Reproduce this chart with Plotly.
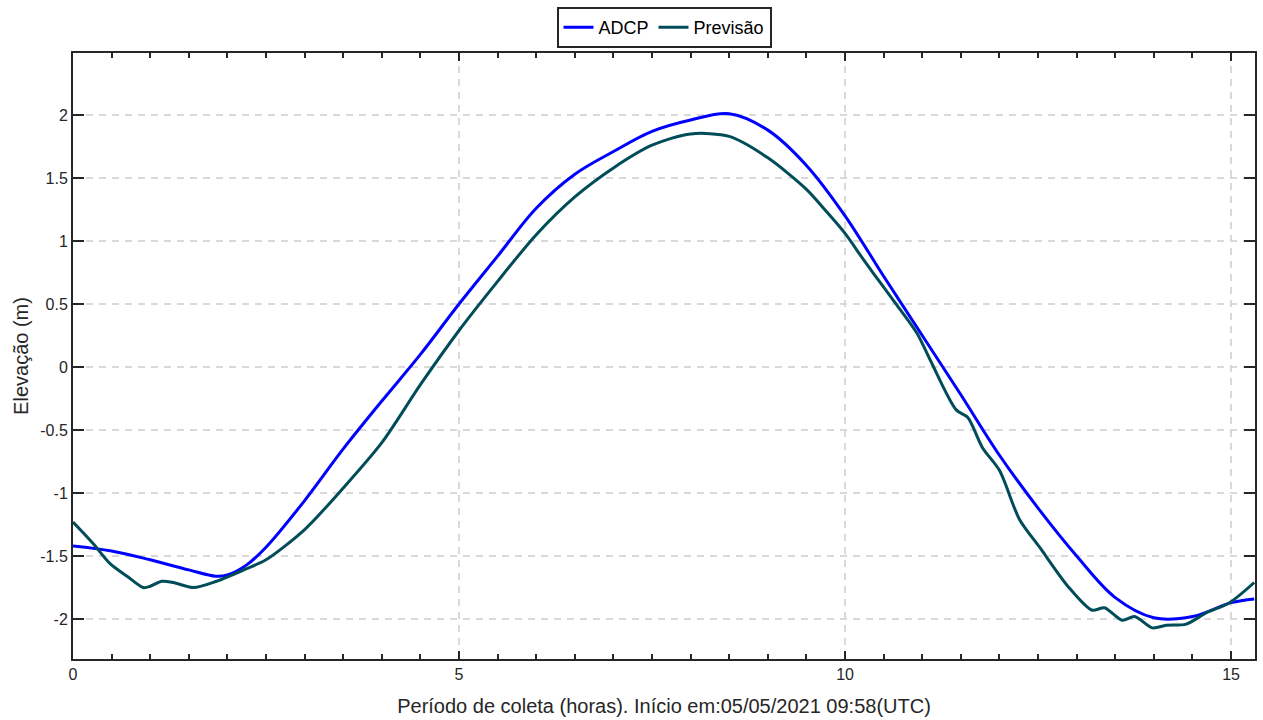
import plotly.graph_objects as go

# ADCP series (hours, elevation m)
adcp_t = [0, 0.5, 1.0, 1.5, 1.85, 2.0, 2.25, 2.5, 3.0, 3.5, 4.0, 4.5, 5.0, 5.5, 6.0, 6.5,
          7.0, 7.5, 8.0, 8.5, 9.0, 9.5, 10.0, 10.5, 11.0, 11.5, 12.0, 12.5, 13.0, 13.5,
          14.0, 14.5, 15.0, 15.3]
adcp_v = [-1.42, -1.46, -1.53, -1.61, -1.66, -1.65, -1.57, -1.43, -1.06, -0.65, -0.27,
          0.10, 0.50, 0.88, 1.26, 1.53, 1.71, 1.87, 1.96, 2.01, 1.88, 1.60, 1.20, 0.72,
          0.25, -0.22, -0.70, -1.12, -1.50, -1.83, -1.99, -1.98, -1.87, -1.84]

# Previsão series
prev_t = [0, 0.26, 0.48, 0.7, 0.91, 1.0, 1.15, 1.3, 1.56, 1.86, 2.25, 2.5, 3.0, 3.5,
          4.0, 4.5, 5.0, 5.5, 6.0, 6.5, 7.0, 7.5, 8.0, 8.5, 9.0, 9.5, 9.75, 10.0, 10.23,
          10.36, 10.6, 10.93, 11.1, 11.44, 11.59, 11.78, 12.0, 12.26, 12.52, 12.9, 13.2,
          13.36, 13.59, 13.75, 13.98, 14.16, 14.42, 14.68, 14.98, 15.3]
prev_v = [-1.23, -1.40, -1.56, -1.66, -1.75, -1.74, -1.70, -1.71, -1.75, -1.70, -1.60,
          -1.53, -1.29, -0.96, -0.60, -0.14, 0.29, 0.68, 1.05, 1.35, 1.58, 1.76, 1.85,
          1.83, 1.66, 1.41, 1.24, 1.06, 0.86, 0.75, 0.55, 0.27, 0.06, -0.34, -0.40, -0.64,
          -0.82, -1.21, -1.43, -1.75, -1.93, -1.91, -2.01, -1.98, -2.07, -2.05, -2.04,
          -1.95, -1.87, -1.71]

x_ticks = [0, 5, 10, 15]
y_ticks = [-2, -1.5, -1, -0.5, 0, 0.5, 1, 1.5, 2]

FONT = "Liberation Sans, Arial, sans-serif"
TXT = "#262626"

fig = go.Figure()
fig.add_trace(go.Scatter(x=adcp_t, y=adcp_v, mode="lines", name="ADCP",
                         line=dict(color="#0000FF", width=3, shape="spline", smoothing=1.0)))
fig.add_trace(go.Scatter(x=prev_t, y=prev_v, mode="lines", name="Previsão",
                         line=dict(color="#004D59", width=3, shape="spline", smoothing=0.8)))

fig.update_layout(
    width=1263, height=720,
    margin=dict(l=73, r=8, t=53, b=61, autoexpand=False),
    paper_bgcolor="white", plot_bgcolor="white",
    font=dict(family=FONT, size=16, color=TXT),
    showlegend=True,
    legend=dict(orientation="h", x=0.5, xanchor="center",
                y=1 - 7 / 720, yanchor="top", yref="container",
                bordercolor="#262626", borderwidth=2,
                font=dict(size=18, color="#000000"), itemwidth=30,
                tracegroupgap=0, bgcolor="white"),
)
fig.update_xaxes(
    range=[0, 15.31], tickvals=x_ticks, ticktext=[str(v) for v in x_ticks],
    showline=True, linecolor=TXT, linewidth=2, mirror="ticks",
    ticks="inside", ticklen=8, tickwidth=2, tickcolor=TXT,
    minor=dict(dtick=0.5, ticks="inside", ticklen=5, tickwidth=2, tickcolor=TXT, showgrid=False),
    showgrid=True, gridcolor="#D9D9D9", gridwidth=2, griddash="7px,6px",
    zeroline=False, automargin=False,
    title=dict(text="Período de coleta (horas). Início em:05/05/2021 09:58(UTC)",
               font=dict(size=20, color=TXT), standoff=17),
    tickfont=dict(size=16, color=TXT),
)
fig.update_yaxes(
    range=[-2.317, 2.492], tickvals=y_ticks, ticktext=[f"{v:g}" for v in y_ticks],
    showline=True, linecolor=TXT, linewidth=2, mirror="ticks",
    ticks="inside", ticklen=11, tickwidth=2, tickcolor=TXT,
    showgrid=True, gridcolor="#D9D9D9", gridwidth=2, griddash="7px,6px",
    zeroline=False, automargin=False,
    title=dict(text="Elevação (m)", font=dict(size=20, color=TXT), standoff=6),
    tickfont=dict(size=16, color=TXT),
)

fig.write_html("out.html")
